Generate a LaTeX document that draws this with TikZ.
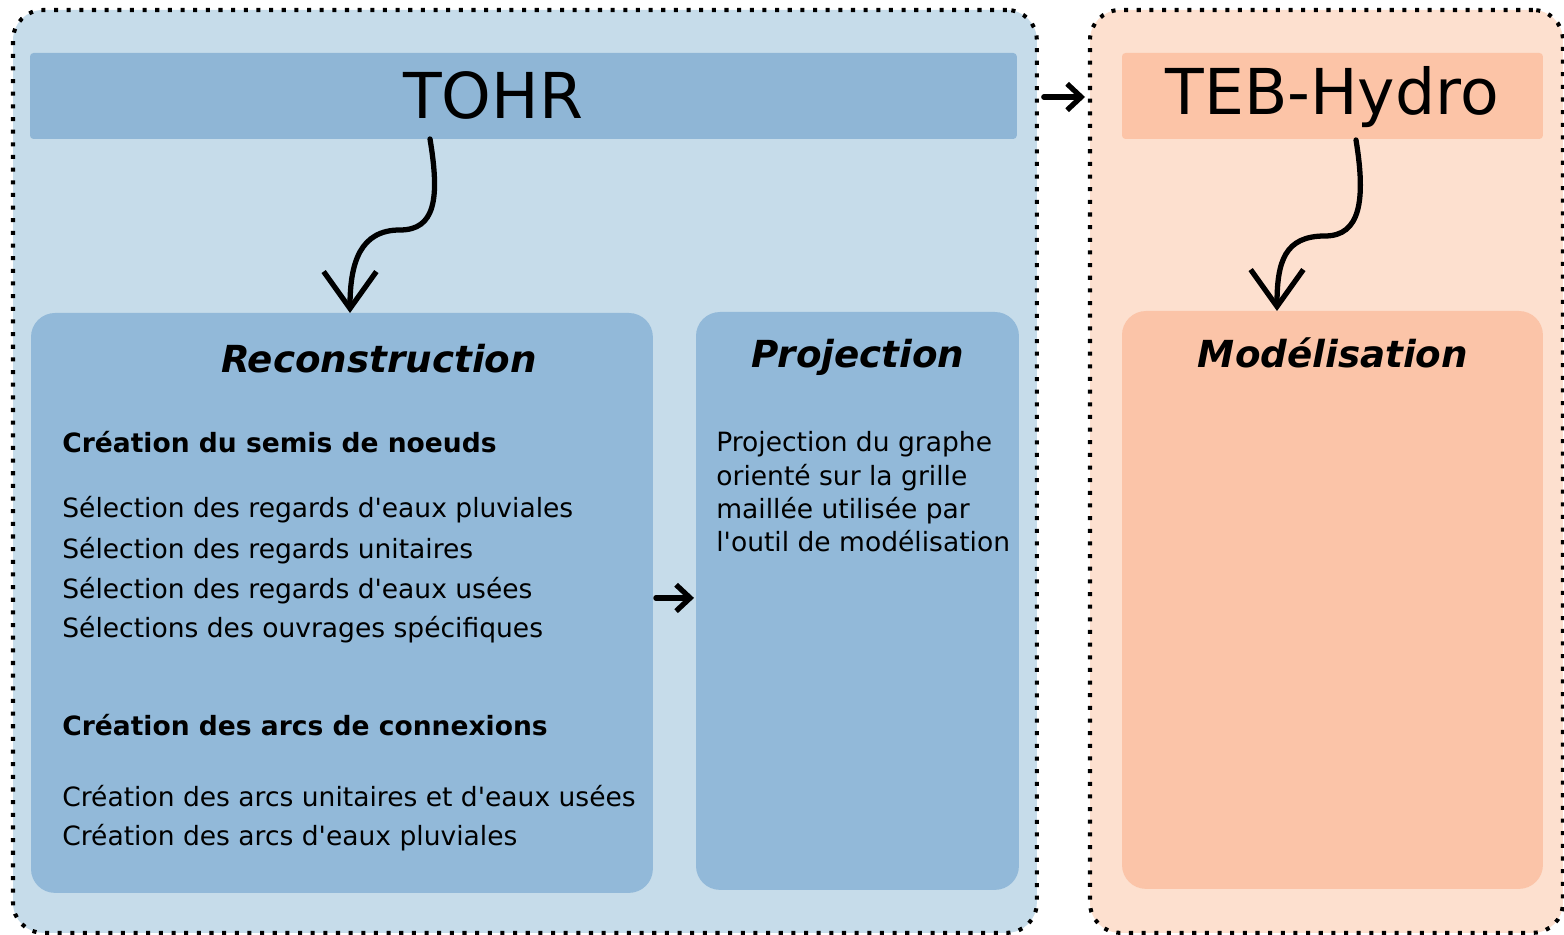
\documentclass[tikz,border=0pt]{standalone}
\usepackage{fontspec}
\setmainfont{DejaVu Sans}
\usetikzlibrary{arrows.meta,calc}

\definecolor{tohrlight}{RGB}{198,220,234}
\definecolor{tohrbar}{RGB}{143,182,214}
\definecolor{tohrbox}{RGB}{146,185,217}
\definecolor{teblight}{RGB}{253,224,207}
\definecolor{tebbar}{RGB}{252,196,167}
\definecolor{tebbox}{RGB}{251,196,168}

\newcommand{\apos}{\textquotesingle}

\tikzset{
  zone/.style={draw=black, line width=2.3pt, dash pattern=on 2.3pt off 4.9pt,
    rounded corners=0.6cm, inner sep=0pt, outer sep=0pt, anchor=north west},
  bar/.style={rounded corners=2pt, inner sep=0pt, outer sep=0pt,
    anchor=north west, minimum height=1.72cm},
  box/.style={rounded corners=0.48cm, inner sep=0pt, outer sep=0pt,
    anchor=north west, minimum height=11.56cm},
  bigname/.style={font=\fontsize{36}{40}\selectfont, anchor=base, inner sep=0pt},
  boxtitle/.style={font=\fontsize{21.2}{25}\selectfont\bfseries\itshape, anchor=base, inner sep=0pt},
  subhead/.style={font=\fontsize{15.1}{18}\selectfont\bfseries, anchor=base west, inner sep=0pt},
  item/.style={font=\fontsize{15.1}{18}\selectfont, anchor=base west, inner sep=0pt},
  flow/.style={line width=3pt, line cap=round},
  bigtip/.style={-{Straight Barb[length=21pt, width=30pt]}},
  smalltip/.style={-{Straight Barb[length=8pt, width=15pt]}}
}

\begin{document}
\begin{tikzpicture}[x=0.02cm, y=-0.02cm]
\useasboundingbox (0,0) rectangle (1564,935);

% zones
\node[zone, fill=tohrlight, minimum width=20.48cm, minimum height=18.46cm] (tohrzone) at (13,10) {};
\node[zone, fill=teblight, minimum width=9.46cm, minimum height=18.46cm] (tebzone) at (1090,10) {};

% title bars
\node[bar, fill=tohrbar, minimum width=19.74cm] (tohr) at (30,53) {};
\node[bar, fill=tebbar, minimum width=8.42cm] (teb) at (1122,53) {};
\node[bigname] (tohrname) at (493,119) {TOHR};
\node[bigname] (tebname) at (1332,115) {TEB-Hydro};

% boxes
\node[box, fill=tohrbox, minimum width=12.44cm, minimum height=11.6cm] (recon) at (31,313) {};
\node[box, fill=tohrbox, minimum width=6.46cm] (proj) at (696,312) {};
\node[box, fill=tebbox, minimum width=8.42cm] (model) at (1122,311) {};

\node[boxtitle] (recontitle) at (379,373) {Reconstruction};
\node[boxtitle] (projtitle) at (858,368) {Projection};
\node[boxtitle] (modeltitle) at (1333,368) {Modélisation};

% reconstruction
\node[subhead] (noeuds) at (62,452) {Création du semis de noeuds};
\foreach \yl/\txt [count=\i] in {517/{Sélection des regards d\apos eaux pluviales},
    558/{Sélection des regards unitaires},
    598/{Sélection des regards d\apos eaux usées},
    637/{Sélections des ouvrages spécifiques}} {
  \node[item] (sel\i) at (62,\yl) {\txt};
}
\node[subhead] (arcs) at (62,735) {Création des arcs de connexions};
\node[item] (arc1) at (62,806) {Création des arcs unitaires et d\apos eaux usées};
\node[item] (arc2) at (62,845) {Création des arcs d\apos eaux pluviales};

% projection
\foreach \yl/\txt [count=\i] in {451/{Projection du graphe},
    485/{orienté sur la grille},
    518/{maillée utilisée par},
    551/{l\apos outil de modélisation}} {
  \node[item] (pr\i) at (716,\yl) {\txt};
}

% arrows
\draw[flow, bigtip] ($(tohr.south west)+(400,0)$)
  .. controls ($(tohr.south west)+(410,60)$) and ($(tohr.south west)+(405,91)$) .. ($(tohr.south west)+(370,91)$)
  .. controls ($(tohr.south west)+(330,91)$) and ($(recon.north west)+(319,-50)$) .. ($(recon.north west)+(319,0)$);
\draw[flow, bigtip] ($(teb.south west)+(234,1)$)
  .. controls ($(teb.south west)+(244,62)$) and ($(teb.south west)+(238,97)$) .. ($(teb.south west)+(203,97)$)
  .. controls ($(teb.south west)+(163,97)$) and ($(model.north west)+(155,-50)$) .. ($(model.north west)+(155,0)$);
\draw[flow, smalltip] ($(tohrzone.east|-tohr.east)+(7,1)$) -- ($(tebzone.west|-tohr.east)+(-5,1)$);
\draw[flow, smalltip] ($(recon.east)+(3,-5)$) -- ($(proj.west|-recon.east)+(-2,-5)$);
\end{tikzpicture}
\end{document}
